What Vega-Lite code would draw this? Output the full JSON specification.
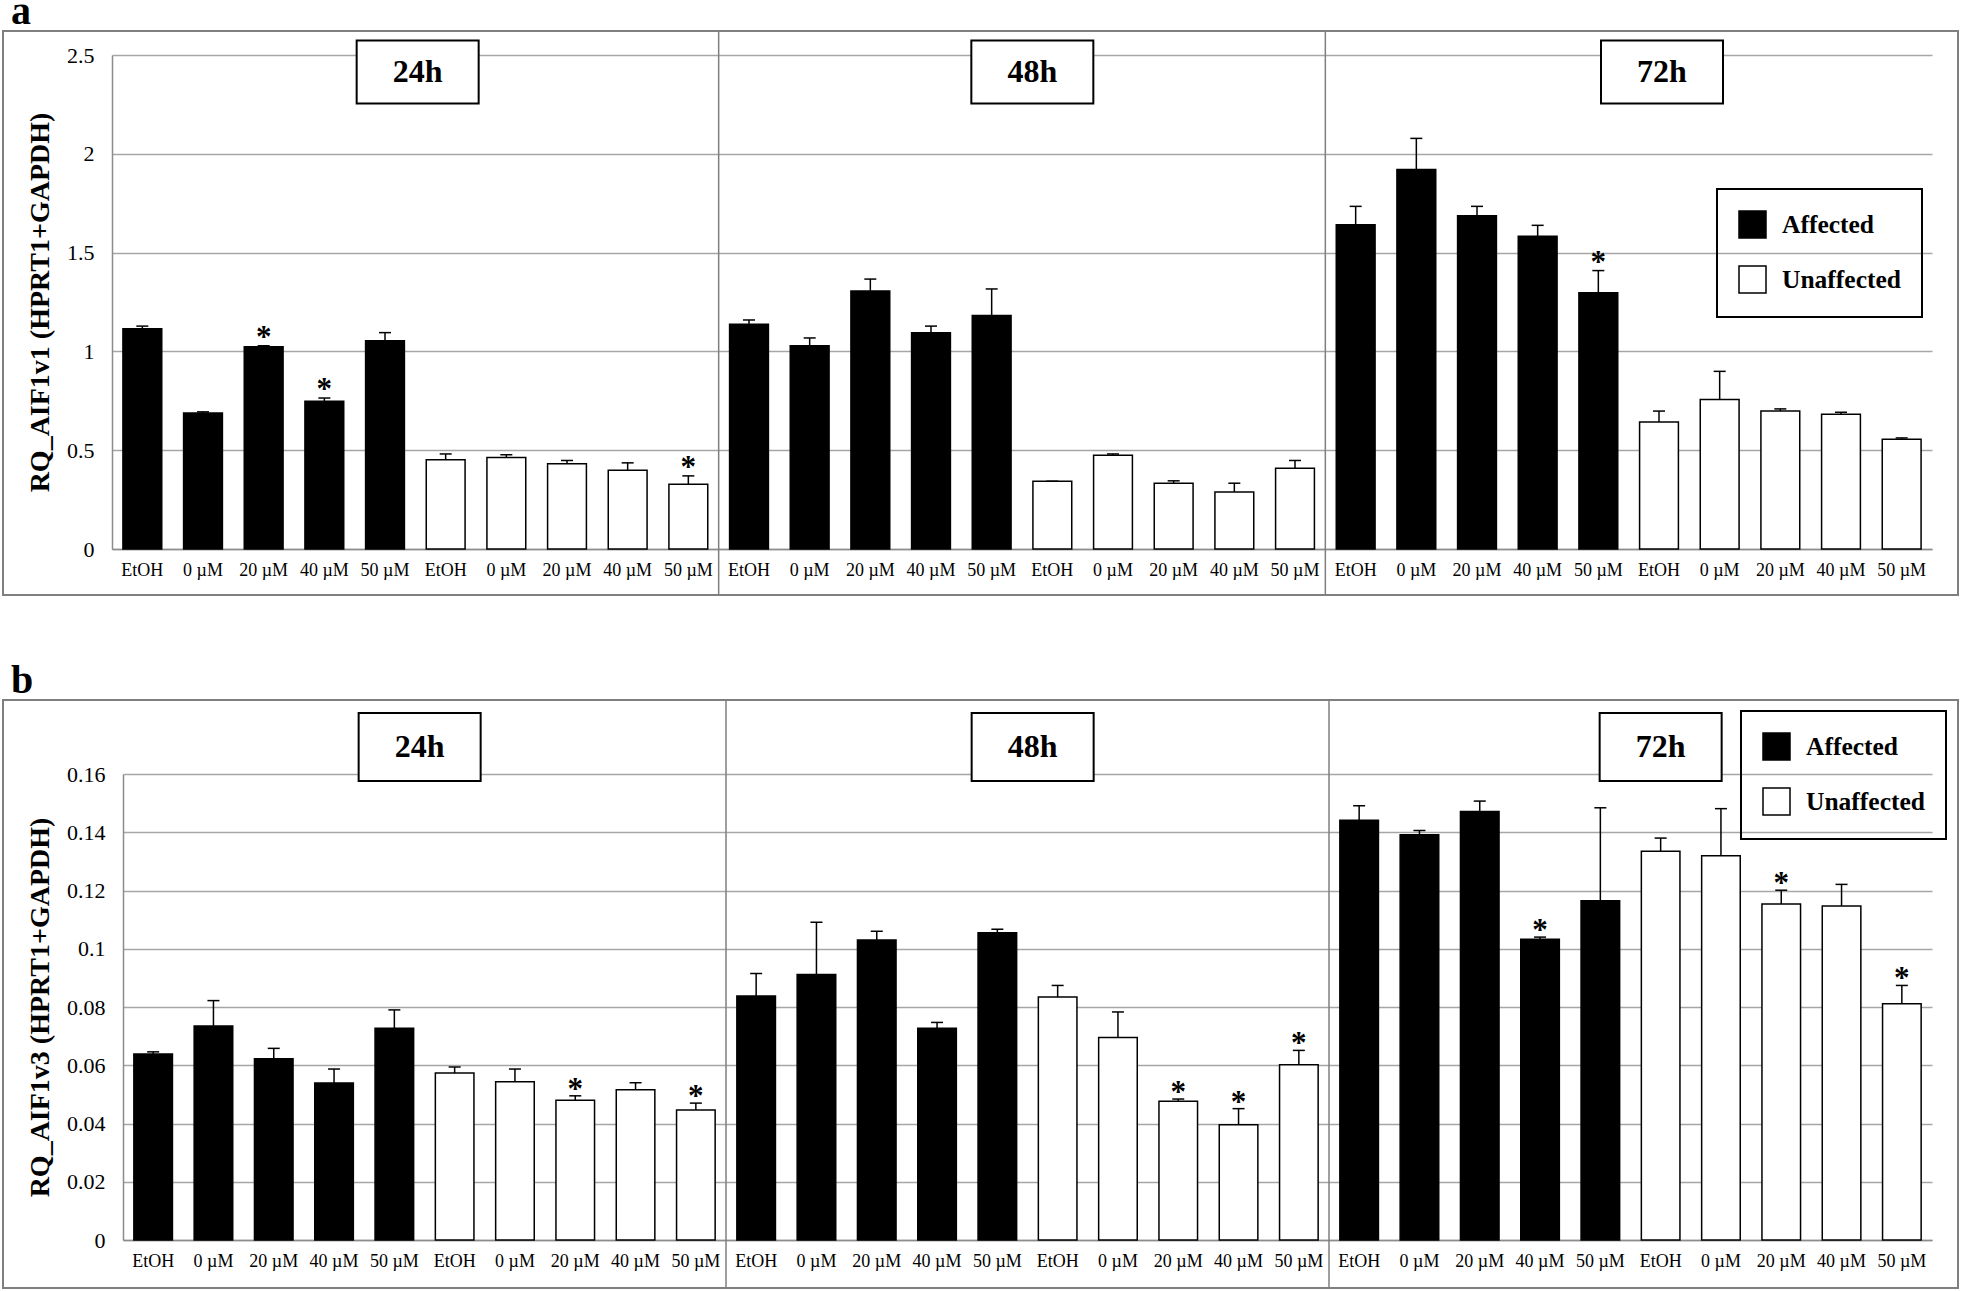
{
  "$schema": "https://vega.github.io/schema/vega-lite/v6.json",
  "background": "white",
  "padding": {"left": 2, "top": -9, "right": 0, "bottom": 0},
  "spacing": 63,
  "config": {
    "font": "Liberation Serif",
    "view": {"stroke": "#7f7f7f", "strokeWidth": 2},
    "axis": {"labelColor": "#000", "titleColor": "#000", "labelFont": "Liberation Serif", "titleFont": "Liberation Serif"},
    "legend": {"strokeWidth": 2},
    "title": {"font": "Liberation Serif", "color": "#000"}
  },
  "resolve": {"scale": {"x": "independent", "y": "independent", "color": "independent"}, "legend": {"color": "independent"}},
  "vconcat": [
    {
      "title": {"text": "a", "anchor": "start", "frame": "group", "fontSize": 40, "fontWeight": "bold", "offset": -34, "dx": 8, "baseline": "alphabetic"},
      "width": 1955,
      "height": 564,
      "data": {"values": [
        {"k": "24h|Affected|EtOH", "g": "Affected", "v": 1.114, "e": 1.128, "s": ""},
        {"k": "24h|Affected|0 µM", "g": "Affected", "v": 0.688, "e": 0.694, "s": ""},
        {"k": "24h|Affected|20 µM", "g": "Affected", "v": 1.023, "e": 1.029, "s": "*"},
        {"k": "24h|Affected|40 µM", "g": "Affected", "v": 0.748, "e": 0.764, "s": "*"},
        {"k": "24h|Affected|50 µM", "g": "Affected", "v": 1.054, "e": 1.095, "s": ""},
        {"k": "24h|Unaffected|EtOH", "g": "Unaffected", "v": 0.452, "e": 0.481, "s": ""},
        {"k": "24h|Unaffected|0 µM", "g": "Unaffected", "v": 0.463, "e": 0.477, "s": ""},
        {"k": "24h|Unaffected|20 µM", "g": "Unaffected", "v": 0.432, "e": 0.448, "s": ""},
        {"k": "24h|Unaffected|40 µM", "g": "Unaffected", "v": 0.399, "e": 0.436, "s": ""},
        {"k": "24h|Unaffected|50 µM", "g": "Unaffected", "v": 0.328, "e": 0.370, "s": "*"},
        {"k": "48h|Affected|EtOH", "g": "Affected", "v": 1.138, "e": 1.159, "s": ""},
        {"k": "48h|Affected|0 µM", "g": "Affected", "v": 1.029, "e": 1.068, "s": ""},
        {"k": "48h|Affected|20 µM", "g": "Affected", "v": 1.306, "e": 1.366, "s": ""},
        {"k": "48h|Affected|40 µM", "g": "Affected", "v": 1.095, "e": 1.128, "s": ""},
        {"k": "48h|Affected|50 µM", "g": "Affected", "v": 1.182, "e": 1.316, "s": ""},
        {"k": "48h|Unaffected|EtOH", "g": "Unaffected", "v": 0.343, "e": 0.343, "s": ""},
        {"k": "48h|Unaffected|0 µM", "g": "Unaffected", "v": 0.475, "e": 0.481, "s": ""},
        {"k": "48h|Unaffected|20 µM", "g": "Unaffected", "v": 0.333, "e": 0.345, "s": ""},
        {"k": "48h|Unaffected|40 µM", "g": "Unaffected", "v": 0.289, "e": 0.333, "s": ""},
        {"k": "48h|Unaffected|50 µM", "g": "Unaffected", "v": 0.409, "e": 0.448, "s": ""},
        {"k": "72h|Affected|EtOH", "g": "Affected", "v": 1.641, "e": 1.734, "s": ""},
        {"k": "72h|Affected|0 µM", "g": "Affected", "v": 1.921, "e": 2.078, "s": ""},
        {"k": "72h|Affected|20 µM", "g": "Affected", "v": 1.686, "e": 1.734, "s": ""},
        {"k": "72h|Affected|40 µM", "g": "Affected", "v": 1.583, "e": 1.638, "s": ""},
        {"k": "72h|Affected|50 µM", "g": "Affected", "v": 1.297, "e": 1.409, "s": "*"},
        {"k": "72h|Unaffected|EtOH", "g": "Unaffected", "v": 0.643, "e": 0.698, "s": ""},
        {"k": "72h|Unaffected|0 µM", "g": "Unaffected", "v": 0.756, "e": 0.899, "s": ""},
        {"k": "72h|Unaffected|20 µM", "g": "Unaffected", "v": 0.698, "e": 0.709, "s": ""},
        {"k": "72h|Unaffected|40 µM", "g": "Unaffected", "v": 0.682, "e": 0.692, "s": ""},
        {"k": "72h|Unaffected|50 µM", "g": "Unaffected", "v": 0.556, "e": 0.562, "s": ""}
      ]},
      "encoding": {
        "x": {
          "field": "k", "type": "nominal",
          "scale": {
            "domain": ["24h|Affected|EtOH", "24h|Affected|0 µM", "24h|Affected|20 µM", "24h|Affected|40 µM", "24h|Affected|50 µM", "24h|Unaffected|EtOH", "24h|Unaffected|0 µM", "24h|Unaffected|20 µM", "24h|Unaffected|40 µM", "24h|Unaffected|50 µM", "48h|Affected|EtOH", "48h|Affected|0 µM", "48h|Affected|20 µM", "48h|Affected|40 µM", "48h|Affected|50 µM", "48h|Unaffected|EtOH", "48h|Unaffected|0 µM", "48h|Unaffected|20 µM", "48h|Unaffected|40 µM", "48h|Unaffected|50 µM", "72h|Affected|EtOH", "72h|Affected|0 µM", "72h|Affected|20 µM", "72h|Affected|40 µM", "72h|Affected|50 µM", "72h|Unaffected|EtOH", "72h|Unaffected|0 µM", "72h|Unaffected|20 µM", "72h|Unaffected|40 µM", "72h|Unaffected|50 µM"],
            "range": [109, 1929], "paddingInner": 0.36, "paddingOuter": 0.18
          },
          "axis": {"orient": "bottom", "offset": -46, "title": null, "labelExpr": "split(datum.value, '|')[2]", "labelAngle": 0, "labelFontSize": 18, "labelPadding": 12, "ticks": false, "tickSize": 0, "domainColor": "#8c8c8c", "domainWidth": 1.5, "grid": false, "labelOverlap": false}
        }
      },
      "layer": [
        {
          "mark": {"type": "bar", "stroke": "#000", "strokeWidth": 1.5},
          "encoding": {
            "y": {"field": "v", "type": "quantitative", "title": "RQ_AIF1v1 (HPRT1+GAPDH)", "scale": {"domain": [0, 2.5], "range": [518, 24], "nice": false},
              "axis": {"offset": -109, "values": [0, 0.5, 1, 1.5, 2, 2.5], "format": "~g", "title": "RQ_AIF1v1 (HPRT1+GAPDH)", "grid": true, "gridColor": "#a6a6a6", "gridWidth": 1.5, "ticks": false, "tickSize": 0, "labelPadding": 18, "labelFontSize": 22, "titleFontSize": 28, "titleFontWeight": "bold", "titlePadding": 12, "domainColor": "#8c8c8c", "domainWidth": 1.5}},
            "color": {"field": "g", "type": "nominal", "scale": {"domain": ["Affected", "Unaffected"], "range": ["#000000", "#ffffff"]},
              "legend": {"orient": "none", "legendX": 1714, "legendY": 158, "title": null, "direction": "vertical", "strokeColor": "#000", "padding": 21, "symbolType": "square", "symbolSize": 729, "symbolStrokeColor": "#000", "symbolStrokeWidth": 1.5, "symbolOpacity": 1, "labelFontSize": 25.5, "labelFontWeight": "bold", "labelOffset": 15, "rowPadding": 22, "labelLimit": 400, "labelColor": "#000"}}
          }
        },
        {
          "mark": {"type": "rule", "color": "#000", "strokeWidth": 1.5},
          "encoding": {"y": {"field": "v", "type": "quantitative", "title": "RQ_AIF1v1 (HPRT1+GAPDH)", "scale": {"domain": [0, 2.5], "range": [518, 24], "nice": false}}, "y2": {"field": "e"}}
        },
        {
          "mark": {"type": "tick", "color": "#000", "size": 12, "thickness": 1.5, "opacity": 1},
          "encoding": {"y": {"field": "e", "type": "quantitative", "title": "RQ_AIF1v1 (HPRT1+GAPDH)", "scale": {"domain": [0, 2.5], "range": [518, 24], "nice": false}}}
        },
        {
          "transform": [{"filter": "datum.s == '*'"}],
          "mark": {"type": "text", "text": "*", "fontSize": 31, "fontWeight": "bold", "baseline": "alphabetic", "dy": 1, "color": "#000"},
          "encoding": {"y": {"field": "e", "type": "quantitative", "title": "RQ_AIF1v1 (HPRT1+GAPDH)", "scale": {"domain": [0, 2.5], "range": [518, 24], "nice": false}}}
        },
        {
          "data": {"values": [{"k": "48h|Affected|EtOH"}, {"k": "72h|Affected|EtOH"}]},
          "mark": {"type": "rule", "color": "#7f7f7f", "strokeWidth": 1.5},
          "encoding": {"x": {"field": "k", "type": "nominal", "bandPosition": -0.28125}}
        },
        {
          "data": {"values": [{"t": "24h", "k": "24h|Unaffected|EtOH"}, {"t": "48h", "k": "48h|Unaffected|EtOH"}, {"t": "72h", "k": "72h|Unaffected|EtOH"}]},
          "mark": {"type": "point", "shape": "M-1,-0.516L1,-0.516L1,0.516L-1,0.516Z", "size": 14884, "filled": true, "fill": "#ffffff", "stroke": "#000", "strokeWidth": 2, "opacity": 1, "xOffset": {"expr": "datum.t == '72h' ? 3 : (datum.t == '48h' ? -20 : -28)"}},
          "encoding": {"y": {"datum": 2.414, "type": "quantitative", "title": "RQ_AIF1v1 (HPRT1+GAPDH)", "scale": {"domain": [0, 2.5], "range": [518, 24], "nice": false}}}
        },
        {
          "data": {"values": [{"t": "24h", "k": "24h|Unaffected|EtOH"}, {"t": "48h", "k": "48h|Unaffected|EtOH"}, {"t": "72h", "k": "72h|Unaffected|EtOH"}]},
          "mark": {"type": "text", "fontSize": 32, "fontWeight": "bold", "baseline": "middle", "color": "#000", "xOffset": {"expr": "datum.t == '72h' ? 3 : (datum.t == '48h' ? -20 : -28)"}},
          "encoding": {"y": {"datum": 2.414, "type": "quantitative", "title": "RQ_AIF1v1 (HPRT1+GAPDH)", "scale": {"domain": [0, 2.5], "range": [518, 24], "nice": false}}, "text": {"field": "t"}}
        }
      ]
    },
    {
      "title": {"text": "b", "anchor": "start", "frame": "group", "fontSize": 40, "fontWeight": "bold", "offset": -34, "dx": 8, "baseline": "alphabetic"},
      "width": 1955,
      "height": 588,
      "data": {"values": [
        {"k": "24h|Affected|EtOH", "g": "Affected", "v": 0.0639, "e": 0.0646, "s": ""},
        {"k": "24h|Affected|0 µM", "g": "Affected", "v": 0.0735, "e": 0.0822, "s": ""},
        {"k": "24h|Affected|20 µM", "g": "Affected", "v": 0.0622, "e": 0.0658, "s": ""},
        {"k": "24h|Affected|40 µM", "g": "Affected", "v": 0.0539, "e": 0.0587, "s": ""},
        {"k": "24h|Affected|50 µM", "g": "Affected", "v": 0.0727, "e": 0.0790, "s": ""},
        {"k": "24h|Unaffected|EtOH", "g": "Unaffected", "v": 0.0573, "e": 0.0594, "s": ""},
        {"k": "24h|Unaffected|0 µM", "g": "Unaffected", "v": 0.0543, "e": 0.0587, "s": ""},
        {"k": "24h|Unaffected|20 µM", "g": "Unaffected", "v": 0.0480, "e": 0.0495, "s": "*"},
        {"k": "24h|Unaffected|40 µM", "g": "Unaffected", "v": 0.0516, "e": 0.0540, "s": ""},
        {"k": "24h|Unaffected|50 µM", "g": "Unaffected", "v": 0.0446, "e": 0.0470, "s": "*"},
        {"k": "48h|Affected|EtOH", "g": "Affected", "v": 0.0838, "e": 0.0915, "s": ""},
        {"k": "48h|Affected|0 µM", "g": "Affected", "v": 0.0912, "e": 0.1091, "s": ""},
        {"k": "48h|Affected|20 µM", "g": "Affected", "v": 0.1030, "e": 0.1060, "s": ""},
        {"k": "48h|Affected|40 µM", "g": "Affected", "v": 0.0727, "e": 0.0747, "s": ""},
        {"k": "48h|Affected|50 µM", "g": "Affected", "v": 0.1055, "e": 0.1067, "s": ""},
        {"k": "48h|Unaffected|EtOH", "g": "Unaffected", "v": 0.0834, "e": 0.0874, "s": ""},
        {"k": "48h|Unaffected|0 µM", "g": "Unaffected", "v": 0.0695, "e": 0.0783, "s": ""},
        {"k": "48h|Unaffected|20 µM", "g": "Unaffected", "v": 0.0476, "e": 0.0484, "s": "*"},
        {"k": "48h|Unaffected|40 µM", "g": "Unaffected", "v": 0.0396, "e": 0.0451, "s": "*"},
        {"k": "48h|Unaffected|50 µM", "g": "Unaffected", "v": 0.0602, "e": 0.0651, "s": "*"},
        {"k": "72h|Affected|EtOH", "g": "Affected", "v": 0.1441, "e": 0.1491, "s": ""},
        {"k": "72h|Affected|0 µM", "g": "Affected", "v": 0.1391, "e": 0.1406, "s": ""},
        {"k": "72h|Affected|20 µM", "g": "Affected", "v": 0.1471, "e": 0.1507, "s": ""},
        {"k": "72h|Affected|40 µM", "g": "Affected", "v": 0.1033, "e": 0.1040, "s": "*"},
        {"k": "72h|Affected|50 µM", "g": "Affected", "v": 0.1165, "e": 0.1484, "s": ""},
        {"k": "72h|Unaffected|EtOH", "g": "Unaffected", "v": 0.1335, "e": 0.1380, "s": ""},
        {"k": "72h|Unaffected|0 µM", "g": "Unaffected", "v": 0.1319, "e": 0.1481, "s": ""},
        {"k": "72h|Unaffected|20 µM", "g": "Unaffected", "v": 0.1154, "e": 0.1201, "s": "*"},
        {"k": "72h|Unaffected|40 µM", "g": "Unaffected", "v": 0.1147, "e": 0.1221, "s": ""},
        {"k": "72h|Unaffected|50 µM", "g": "Unaffected", "v": 0.0811, "e": 0.0874, "s": "*"}
      ]},
      "encoding": {
        "x": {
          "field": "k", "type": "nominal",
          "scale": {
            "domain": ["24h|Affected|EtOH", "24h|Affected|0 µM", "24h|Affected|20 µM", "24h|Affected|40 µM", "24h|Affected|50 µM", "24h|Unaffected|EtOH", "24h|Unaffected|0 µM", "24h|Unaffected|20 µM", "24h|Unaffected|40 µM", "24h|Unaffected|50 µM", "48h|Affected|EtOH", "48h|Affected|0 µM", "48h|Affected|20 µM", "48h|Affected|40 µM", "48h|Affected|50 µM", "48h|Unaffected|EtOH", "48h|Unaffected|0 µM", "48h|Unaffected|20 µM", "48h|Unaffected|40 µM", "48h|Unaffected|50 µM", "72h|Affected|EtOH", "72h|Affected|0 µM", "72h|Affected|20 µM", "72h|Affected|40 µM", "72h|Affected|50 µM", "72h|Unaffected|EtOH", "72h|Unaffected|0 µM", "72h|Unaffected|20 µM", "72h|Unaffected|40 µM", "72h|Unaffected|50 µM"],
            "range": [120, 1929], "paddingInner": 0.36, "paddingOuter": 0.18
          },
          "axis": {"orient": "bottom", "offset": -48, "title": null, "labelExpr": "split(datum.value, '|')[2]", "labelAngle": 0, "labelFontSize": 18, "labelPadding": 12, "ticks": false, "tickSize": 0, "domainColor": "#8c8c8c", "domainWidth": 1.5, "grid": false, "labelOverlap": false}
        }
      },
      "layer": [
        {
          "mark": {"type": "bar", "stroke": "#000", "strokeWidth": 1.5},
          "encoding": {
            "y": {"field": "v", "type": "quantitative", "title": "RQ_AIF1v3 (HPRT1+GAPDH)", "scale": {"domain": [0, 0.16], "range": [540, 74], "nice": false},
              "axis": {"offset": -120, "values": [0, 0.02, 0.04, 0.06, 0.08, 0.1, 0.12, 0.14, 0.16], "format": "~g", "title": "RQ_AIF1v3 (HPRT1+GAPDH)", "grid": true, "gridColor": "#a6a6a6", "gridWidth": 1.5, "ticks": false, "tickSize": 0, "labelPadding": 18, "labelFontSize": 22, "titleFontSize": 28, "titleFontWeight": "bold", "titlePadding": 12, "domainColor": "#8c8c8c", "domainWidth": 1.5}},
            "color": {"field": "g", "type": "nominal", "scale": {"domain": ["Affected", "Unaffected"], "range": ["#000000", "#ffffff"]},
              "legend": {"orient": "none", "legendX": 1738, "legendY": 11, "title": null, "direction": "vertical", "strokeColor": "#000", "padding": 21, "symbolType": "square", "symbolSize": 729, "symbolStrokeColor": "#000", "symbolStrokeWidth": 1.5, "symbolOpacity": 1, "labelFontSize": 25.5, "labelFontWeight": "bold", "labelOffset": 15, "rowPadding": 22, "labelLimit": 400, "labelColor": "#000"}}
          }
        },
        {
          "mark": {"type": "rule", "color": "#000", "strokeWidth": 1.5},
          "encoding": {"y": {"field": "v", "type": "quantitative", "title": "RQ_AIF1v3 (HPRT1+GAPDH)", "scale": {"domain": [0, 0.16], "range": [540, 74], "nice": false}}, "y2": {"field": "e"}}
        },
        {
          "mark": {"type": "tick", "color": "#000", "size": 12, "thickness": 1.5, "opacity": 1},
          "encoding": {"y": {"field": "e", "type": "quantitative", "title": "RQ_AIF1v3 (HPRT1+GAPDH)", "scale": {"domain": [0, 0.16], "range": [540, 74], "nice": false}}}
        },
        {
          "transform": [{"filter": "datum.s == '*'"}],
          "mark": {"type": "text", "text": "*", "fontSize": 31, "fontWeight": "bold", "baseline": "alphabetic", "dy": 3, "color": "#000"},
          "encoding": {"y": {"field": "e", "type": "quantitative", "title": "RQ_AIF1v3 (HPRT1+GAPDH)", "scale": {"domain": [0, 0.16], "range": [540, 74], "nice": false}}}
        },
        {
          "data": {"values": [{"k": "48h|Affected|EtOH"}, {"k": "72h|Affected|EtOH"}]},
          "mark": {"type": "rule", "color": "#7f7f7f", "strokeWidth": 1.5},
          "encoding": {"x": {"field": "k", "type": "nominal", "bandPosition": -0.28125}}
        },
        {
          "data": {"values": [{"t": "24h", "k": "24h|Unaffected|EtOH"}, {"t": "48h", "k": "48h|Unaffected|EtOH"}, {"t": "72h", "k": "72h|Unaffected|EtOH"}]},
          "mark": {"type": "point", "shape": "M-1,-0.557L1,-0.557L1,0.557L-1,0.557Z", "size": 14884, "filled": true, "fill": "#ffffff", "stroke": "#000", "strokeWidth": 2, "opacity": 1, "xOffset": {"expr": "datum.t == '72h' ? 0 : (datum.t == '48h' ? -25 : -35)"}},
          "encoding": {"y": {"datum": 0.1693, "type": "quantitative", "title": "RQ_AIF1v3 (HPRT1+GAPDH)", "scale": {"domain": [0, 0.16], "range": [540, 74], "nice": false}}}
        },
        {
          "data": {"values": [{"t": "24h", "k": "24h|Unaffected|EtOH"}, {"t": "48h", "k": "48h|Unaffected|EtOH"}, {"t": "72h", "k": "72h|Unaffected|EtOH"}]},
          "mark": {"type": "text", "fontSize": 32, "fontWeight": "bold", "baseline": "middle", "color": "#000", "xOffset": {"expr": "datum.t == '72h' ? 0 : (datum.t == '48h' ? -25 : -35)"}},
          "encoding": {"y": {"datum": 0.1693, "type": "quantitative", "title": "RQ_AIF1v3 (HPRT1+GAPDH)", "scale": {"domain": [0, 0.16], "range": [540, 74], "nice": false}}, "text": {"field": "t"}}
        }
      ]
    }
  ]
}
